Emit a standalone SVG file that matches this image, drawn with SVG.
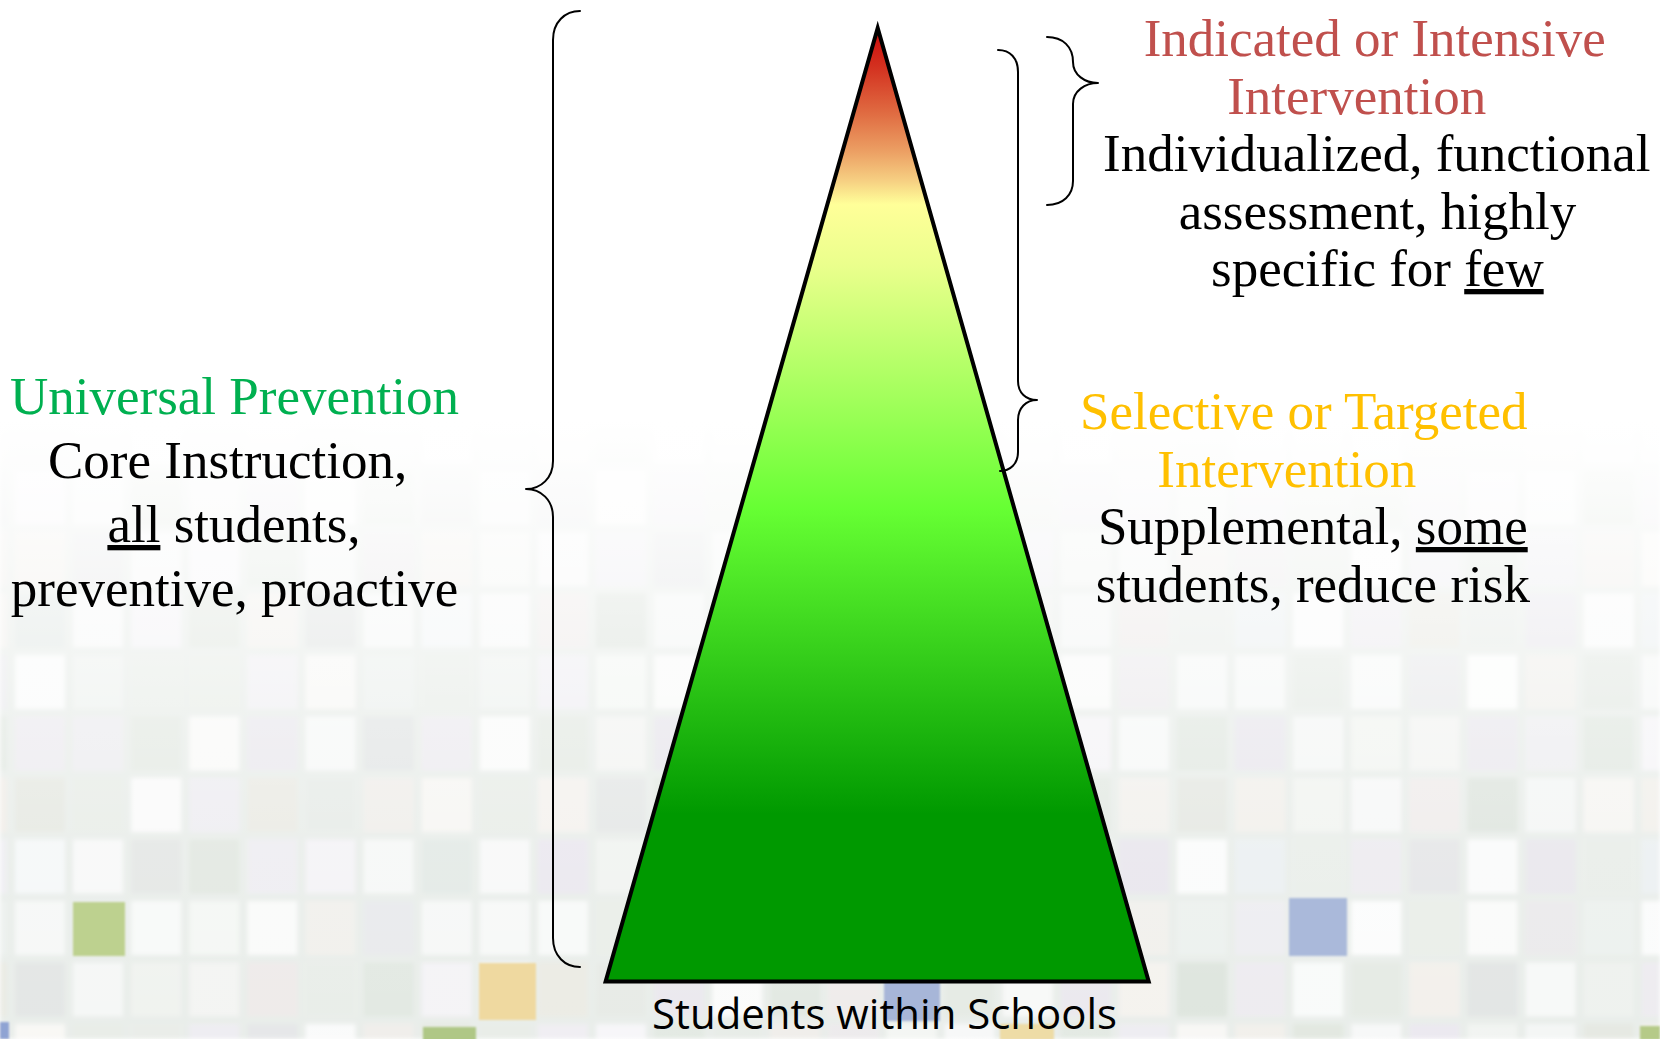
<svg xmlns="http://www.w3.org/2000/svg" width="1660" height="1039" viewBox="0 0 1660 1039">
  <style>
    .serif { font-family: "Liberation Serif", "Times New Roman", serif; font-size: 53px; text-anchor: middle; }
    .body { fill: #000000; }
    .red { fill: #c0504d; }
    .green { fill: #00b050; }
    .gold { fill: #ffc000; }
    .u { text-decoration: underline; }
    .brace { fill: none; stroke: #000000; stroke-width: 2; stroke-linecap: round; stroke-linejoin: round; }
    .caption { font-family: "Open Sans", "Liberation Sans", sans-serif; font-size: 42px; fill: #000000; text-anchor: middle; }
  </style>
  <defs>
    <!-- base mosaic: 7 x 4 cells of 58.1 x 61.5 -->
    <pattern id="tilesA" patternUnits="userSpaceOnUse" x="11" y="651" width="406.7" height="246">
      <rect width="406.7" height="246" fill="#e6ebe7"/>
      <rect x="4" y="4" width="50" height="54" fill="#f5f7f6"/>
      <rect x="62.1" y="4" width="50" height="54" fill="#edf1ee"/>
      <rect x="120.2" y="4" width="50" height="54" fill="#f7f9f8"/>
      <rect x="178.3" y="4" width="50" height="54" fill="#e7ece6"/>
      <rect x="236.4" y="4" width="50" height="54" fill="#f9faf9"/>
      <rect x="294.5" y="4" width="50" height="54" fill="#efeeea"/>
      <rect x="352.6" y="4" width="50" height="54" fill="#eaefec"/>
      <rect x="4" y="65.5" width="50" height="54" fill="#ebe9ee"/>
      <rect x="62.1" y="65.5" width="50" height="54" fill="#f4f6f5"/>
      <rect x="120.2" y="65.5" width="50" height="54" fill="#e2e8e1"/>
      <rect x="178.3" y="65.5" width="50" height="54" fill="#f2f3f1"/>
      <rect x="236.4" y="65.5" width="50" height="54" fill="#e8e6ec"/>
      <rect x="294.5" y="65.5" width="50" height="54" fill="#f6f8f7"/>
      <rect x="352.6" y="65.5" width="50" height="54" fill="#dfe6df"/>
      <rect x="4" y="127" width="50" height="54" fill="#f0eee9"/>
      <rect x="62.1" y="127" width="50" height="54" fill="#e6ebe5"/>
      <rect x="120.2" y="127" width="50" height="54" fill="#f6f7f7"/>
      <rect x="178.3" y="127" width="50" height="54" fill="#ecebf0"/>
      <rect x="236.4" y="127" width="50" height="54" fill="#e0e7e0"/>
      <rect x="294.5" y="127" width="50" height="54" fill="#f3f5f4"/>
      <rect x="352.6" y="127" width="50" height="54" fill="#eeece8"/>
      <rect x="4" y="188.5" width="50" height="54" fill="#e9eef0"/>
      <rect x="62.1" y="188.5" width="50" height="54" fill="#f7f8f8"/>
      <rect x="120.2" y="188.5" width="50" height="54" fill="#ebe9ee"/>
      <rect x="178.3" y="188.5" width="50" height="54" fill="#dfe5de"/>
      <rect x="236.4" y="188.5" width="50" height="54" fill="#f3f5f4"/>
      <rect x="294.5" y="188.5" width="50" height="54" fill="#e6e4ea"/>
      <rect x="352.6" y="188.5" width="50" height="54" fill="#f5f7f6"/>
    </pattern>
    <!-- second tint layer on a 5 x 3 cycle to break up the repeat -->
    <pattern id="tilesB" patternUnits="userSpaceOnUse" x="11" y="651" width="290.5" height="184.5">
      <rect x="4" y="4" width="50" height="54" fill="#ffffff" opacity="0.5"/>
      <rect x="120.2" y="4" width="50" height="54" fill="#d8dfd6" opacity="0.5"/>
      <rect x="236.4" y="4" width="50" height="54" fill="#e6e2eb" opacity="0.5"/>
      <rect x="62.1" y="65.5" width="50" height="54" fill="#e2dfe8" opacity="0.5"/>
      <rect x="178.3" y="65.5" width="50" height="54" fill="#ffffff" opacity="0.5"/>
      <rect x="4" y="127" width="50" height="54" fill="#d6ddd5" opacity="0.5"/>
      <rect x="120.2" y="127" width="50" height="54" fill="#ffffff" opacity="0.4"/>
      <rect x="236.4" y="127" width="50" height="54" fill="#efe9e2" opacity="0.5"/>
    </pattern>
    <linearGradient id="fade" gradientUnits="userSpaceOnUse" x1="0" y1="420" x2="0" y2="1039">
      <stop offset="0" stop-color="#ffffff" stop-opacity="1"/>
      <stop offset="0.12" stop-color="#ffffff" stop-opacity="0.85"/>
      <stop offset="0.3" stop-color="#ffffff" stop-opacity="0.6"/>
      <stop offset="0.5" stop-color="#ffffff" stop-opacity="0.35"/>
      <stop offset="0.7" stop-color="#ffffff" stop-opacity="0.2"/>
      <stop offset="1" stop-color="#ffffff" stop-opacity="0.12"/>
    </linearGradient>
    <linearGradient id="tier" gradientUnits="userSpaceOnUse" x1="0" y1="28" x2="0" y2="981">
      <stop offset="0" stop-color="#cc0a0a"/>
      <stop offset="0.04" stop-color="#d3301f"/>
      <stop offset="0.09" stop-color="#e06c42"/>
      <stop offset="0.13" stop-color="#eca064"/>
      <stop offset="0.16" stop-color="#f6cf82"/>
      <stop offset="0.185" stop-color="#ffff99"/>
      <stop offset="0.25" stop-color="#eaff8c"/>
      <stop offset="0.505" stop-color="#66ff33"/>
      <stop offset="0.825" stop-color="#009900"/>
      <stop offset="1" stop-color="#009900"/>
    </linearGradient>
    <filter id="soft" x="-2%" y="-2%" width="104%" height="104%">
      <feGaussianBlur stdDeviation="2"/>
    </filter>
    <filter id="softer" x="-10%" y="-10%" width="120%" height="120%">
      <feGaussianBlur stdDeviation="0.8"/>
    </filter>
  </defs>

  <!-- backdrop -->
  <rect width="1660" height="1039" fill="#ffffff"/>
  <g id="mosaic">
    <g filter="url(#soft)">
      <rect x="0" y="405" width="1660" height="634" fill="url(#tilesA)"/>
      <rect x="0" y="405" width="1660" height="634" fill="url(#tilesB)"/>
    </g>
    <rect x="0" y="400" width="1660" height="639" fill="url(#fade)"/>
    <g filter="url(#softer)">
      <rect x="73" y="902" width="52" height="54" fill="#bdd18f"/>
      <rect x="479" y="963" width="57" height="57" fill="#efd9a0"/>
      <rect x="1289" y="898" width="58" height="58" fill="#aab9da"/>
      <rect x="884" y="963" width="56" height="58" fill="#a7b6d8"/>
      <rect x="423" y="1027" width="53" height="14" fill="#afc786"/>
      <rect x="0" y="1022" width="9" height="17" fill="#8fa3d3"/>
      <rect x="1000" y="1024" width="54" height="16" fill="#eedca6"/>
      <rect x="1640" y="1026" width="20" height="14" fill="#b5ca88"/>
    </g>
  </g>

  <!-- tiered triangle -->
  <g id="triangle">
    <polygon points="877.7,28 605.6,981.4 1148.7,981.4" fill="url(#tier)" stroke="#000000" stroke-width="4" stroke-linejoin="miter"/>
  </g>

  <!-- braces -->
  <g id="connectors">
    <path class="brace" d="M580,11 C565,11 553,22 553,40 L553,461 C553,478 541,489 526,489 C541,489 553,500 553,517 L553,938 C553,956 565,967 580,967"/>
    <path class="brace" d="M998,50 C1010,50 1018,58 1018,72 L1018,381 C1018,393 1026,400 1037,400 C1026,400 1018,408 1018,420 L1018,452 C1018,464 1010,471 1000,471"/>
    <path class="brace" d="M1047,37 C1063,37 1073,47 1073,62 C1073,75 1085,83 1098,83 C1085,83 1073,91 1073,104 L1073,181 C1073,195 1063,205 1047,205"/>
  </g>

  <!-- tier descriptions -->
  <g id="universal">
    <text class="serif green" x="234.5" y="414">Universal Prevention</text>
    <text class="serif body" x="227.6" y="478">Core Instruction,</text>
    <text class="serif body" x="234" y="542"><tspan class="u">all</tspan> students,</text>
    <text class="serif body" x="234.5" y="605.5">preventive, proactive</text>
  </g>

  <g id="indicated">
    <text class="serif red" x="1374.7" y="56">Indicated or Intensive</text>
    <text class="serif red" x="1356.7" y="113.5">Intervention</text>
    <text class="serif body" x="1376.8" y="171">Individualized, functional</text>
    <text class="serif body" x="1377.4" y="228.5">assessment, highly</text>
    <text class="serif body" x="1377.4" y="286">specific for <tspan class="u">few</tspan></text>
  </g>

  <g id="selective">
    <text class="serif gold" x="1303.8" y="429">Selective or Targeted</text>
    <text class="serif gold" x="1286.8" y="486.5">Intervention</text>
    <text class="serif body" x="1312.8" y="544">Supplemental, <tspan class="u">some</tspan></text>
    <text class="serif body" x="1312.8" y="601.5">students, reduce risk</text>
  </g>

  <g id="population">
    <text class="caption" x="884.5" y="1029" textLength="465" lengthAdjust="spacingAndGlyphs">Students within Schools</text>
  </g>
</svg>
